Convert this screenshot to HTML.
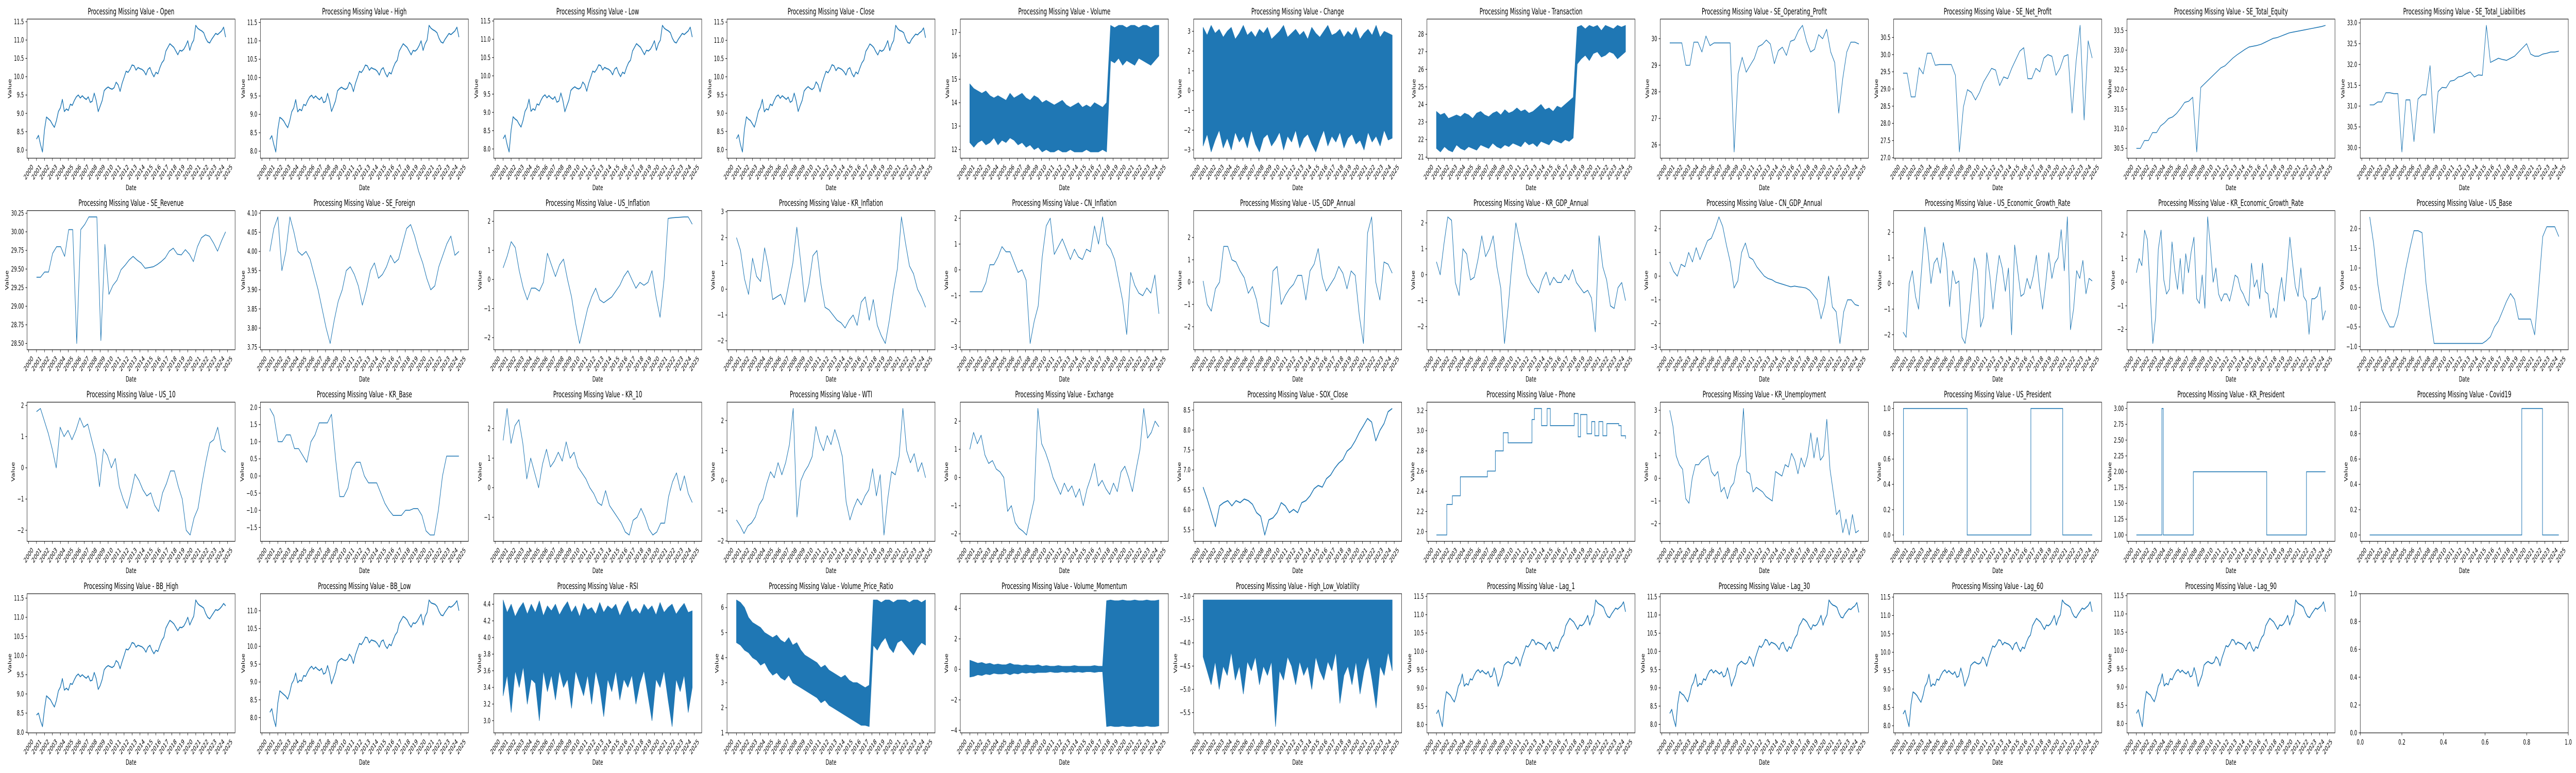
<!DOCTYPE html>
<html><head><meta charset="utf-8"><title>Processing Missing Value</title>
<style>
html,body{margin:0;padding:0;background:#fff;overflow:hidden;width:100%;height:100%;}
svg{display:block;width:100vw;height:100vh;}
text{font-family:"DejaVu Sans","Liberation Sans",sans-serif;fill:#000;}
</style></head>
<body>
<svg id="fig" xmlns="http://www.w3.org/2000/svg" viewBox="0 0 8000 1500" preserveAspectRatio="none">
<rect x="0" y="0" width="8000" height="1500" fill="#fff"/>
</svg>
<script>
// ---------- data ----------
const T0 = 2001, T1 = 2024.75;
const yearTicks = ["2000","2001","2002","2003","2004","2005","2006","2007","2008","2009","2010","2011","2012","2013","2014","2015","2016","2017","2018","2019","2020","2021","2022","2023","2024","2025"];

const openV=[8.30,8.40,8.15,7.95,8.55,8.90,8.85,8.80,8.70,8.62,8.80,9.05,9.15,9.38,9.05,9.12,9.08,9.25,9.22,9.35,9.45,9.50,9.42,9.48,9.42,9.38,9.45,9.30,9.33,9.55,9.35,9.05,9.20,9.35,9.62,9.68,9.72,9.68,9.66,9.70,9.85,9.78,9.60,9.82,9.98,10.15,10.12,10.20,10.32,10.30,10.18,10.25,10.22,10.20,10.15,10.05,10.20,10.25,10.10,10.00,10.12,10.08,10.25,10.38,10.45,10.70,10.80,10.90,10.85,10.80,10.70,10.60,10.72,10.70,10.75,10.85,10.98,10.72,10.90,11.00,11.40,11.32,11.28,11.25,11.20,11.05,10.95,10.92,11.02,11.10,11.18,11.15,11.20,11.25,11.35,11.08];
const highV=[8.32,8.42,8.18,7.98,8.58,8.92,8.88,8.82,8.72,8.64,8.82,9.07,9.17,9.40,9.07,9.14,9.10,9.27,9.24,9.37,9.47,9.52,9.44,9.50,9.44,9.40,9.47,9.32,9.35,9.57,9.37,9.08,9.22,9.37,9.64,9.70,9.74,9.70,9.68,9.72,9.87,9.80,9.62,9.84,10.00,10.17,10.14,10.22,10.34,10.32,10.20,10.27,10.24,10.22,10.17,10.07,10.22,10.27,10.12,10.02,10.14,10.10,10.27,10.40,10.47,10.72,10.82,10.92,10.87,10.82,10.72,10.62,10.74,10.72,10.77,10.87,11.00,10.74,10.92,11.02,11.42,11.34,11.30,11.27,11.22,11.07,10.97,10.94,11.04,11.12,11.20,11.17,11.22,11.27,11.37,11.10];
const lowV=[8.28,8.38,8.12,7.92,8.52,8.88,8.82,8.78,8.68,8.60,8.78,9.03,9.13,9.36,9.03,9.10,9.06,9.23,9.20,9.33,9.43,9.48,9.40,9.46,9.40,9.36,9.43,9.28,9.31,9.53,9.33,9.02,9.18,9.33,9.60,9.66,9.70,9.66,9.64,9.68,9.83,9.76,9.58,9.80,9.96,10.13,10.10,10.18,10.30,10.28,10.16,10.23,10.20,10.18,10.13,10.03,10.18,10.23,10.08,9.98,10.10,10.06,10.23,10.36,10.43,10.68,10.78,10.88,10.83,10.78,10.68,10.58,10.70,10.68,10.73,10.83,10.96,10.70,10.88,10.98,11.38,11.30,11.26,11.23,11.18,11.03,10.93,10.90,11.00,11.08,11.16,11.13,11.18,11.23,11.33,11.06];
const closeV=[8.30,8.41,8.14,7.94,8.56,8.90,8.84,8.80,8.71,8.62,8.81,9.05,9.16,9.38,9.04,9.12,9.09,9.25,9.21,9.35,9.46,9.50,9.41,9.48,9.43,9.38,9.44,9.30,9.34,9.55,9.34,9.05,9.21,9.35,9.61,9.68,9.73,9.68,9.65,9.70,9.86,9.78,9.59,9.82,9.99,10.15,10.11,10.20,10.33,10.30,10.17,10.25,10.23,10.20,10.14,10.05,10.21,10.25,10.09,10.00,10.13,10.08,10.24,10.38,10.46,10.70,10.79,10.90,10.86,10.80,10.69,10.60,10.73,10.70,10.74,10.85,10.99,10.72,10.89,11.00,11.41,11.32,11.27,11.25,11.21,11.05,10.94,10.92,11.03,11.10,11.17,11.15,11.21,11.25,11.34,11.07];

const volHi=[14.8,14.6,14.5,14.4,14.5,14.3,14.2,14.3,14.2,14.1,14.4,14.2,14.3,14.4,14.2,14.1,14.3,14.2,14.0,14.1,14.0,13.9,14.0,14.1,13.9,13.8,13.9,14.0,13.8,13.9,13.8,14.0,13.9,13.8,14.0,17.3,17.2,17.3,17.3,17.2,17.3,17.3,17.2,17.3,17.3,17.2,17.3,17.3];
const volLo=[12.3,12.1,12.3,12.4,12.2,12.3,12.5,12.2,12.4,12.3,12.5,12.4,12.2,12.3,12.1,12.2,12.0,12.1,11.9,12.0,11.9,11.9,12.0,11.9,11.9,12.0,11.9,11.9,11.9,12.0,11.9,11.9,11.9,12.0,11.9,15.8,15.7,15.9,15.6,15.8,15.7,15.6,15.9,15.8,15.7,15.6,15.8,16.0];
const chgHi=[3.2,2.8,3.3,2.9,3.1,2.7,3.0,3.2,2.6,2.9,3.3,2.8,3.0,2.7,3.1,2.9,3.2,2.6,2.8,3.0,3.3,2.7,2.9,3.1,2.8,3.0,2.6,3.2,2.9,2.7,3.0,3.3,2.8,2.9,3.1,2.7,3.0,2.8,3.2,2.6,2.9,3.1,2.8,3.3,2.7,3.0,2.9,2.8];
const chgLo=[-2.8,-2.2,-3.1,-2.5,-2.0,-2.9,-2.4,-3.0,-2.1,-2.6,-2.3,-2.9,-2.0,-2.7,-3.1,-2.4,-2.2,-2.8,-2.5,-2.1,-3.0,-2.3,-2.6,-2.0,-2.9,-2.4,-2.2,-2.7,-3.1,-2.5,-2.0,-2.8,-2.3,-2.6,-2.1,-2.9,-2.4,-2.2,-2.7,-2.5,-3.0,-2.1,-2.6,-2.3,-2.8,-2.0,-2.5,-2.4];
const trnHi=[23.6,23.4,23.5,23.2,23.3,23.4,23.3,23.5,23.4,23.2,23.5,23.6,23.4,23.3,23.5,23.6,23.4,23.7,23.5,23.6,23.8,23.6,23.7,23.5,23.6,23.8,24.0,23.7,23.8,23.6,23.9,23.8,24.0,24.2,24.4,28.4,28.5,28.3,28.5,28.4,28.5,28.2,28.5,28.4,28.3,28.5,28.4,28.5];
const trnLo=[21.5,21.3,21.6,21.4,21.3,21.7,21.5,21.4,21.6,21.5,21.4,21.7,21.6,21.5,21.8,21.6,21.5,21.7,21.6,21.8,21.7,21.6,21.9,21.7,21.8,21.6,21.9,21.8,21.7,22.0,21.9,21.8,22.0,21.9,22.1,26.3,26.6,26.8,26.5,26.9,27.0,26.7,26.8,27.0,26.9,26.6,26.8,27.0];
const seOpV=[29.84,29.84,29.84,29.84,29.0,29.0,29.87,29.87,29.5,30.1,29.74,29.84,29.84,29.84,29.84,29.84,25.74,28.68,29.3,28.74,29.0,29.25,29.7,29.78,29.95,29.8,29.06,29.55,29.68,29.37,29.9,29.96,30.3,30.5,29.9,29.5,29.6,30.15,30.0,30.35,29.5,29.1,27.2,28.5,29.5,29.87,29.87,29.8];
const seNetV=[29.46,29.46,28.77,28.77,29.62,29.44,30.04,30.04,29.69,29.71,29.71,29.71,29.71,29.4,27.17,28.48,28.98,28.9,28.68,28.9,29.2,29.4,29.6,29.55,29.1,29.35,29.3,29.6,29.85,30.1,30.2,29.3,29.3,29.6,29.5,29.9,30.0,29.95,29.4,29.6,29.95,30.0,28.3,29.8,30.85,28.1,30.4,29.9];
const seEqV=[30.5,30.5,30.7,30.7,30.9,30.9,31.07,31.15,31.26,31.3,31.39,31.52,31.67,31.7,31.8,30.41,32.05,32.15,32.25,32.35,32.45,32.55,32.6,32.7,32.8,32.88,32.95,33.02,33.08,33.1,33.12,33.15,33.2,33.25,33.3,33.32,33.36,33.4,33.44,33.46,33.48,33.5,33.52,33.54,33.56,33.58,33.6,33.63];
const seLiabV=[31.03,31.03,31.1,31.1,31.32,31.32,31.3,31.3,29.9,31.15,31.15,30.15,31.17,31.27,31.27,31.97,30.35,31.35,31.45,31.44,31.6,31.62,31.7,31.72,31.78,31.82,31.7,31.75,31.74,32.94,32.05,32.1,32.15,32.12,32.1,32.15,32.2,32.3,32.4,32.5,32.25,32.2,32.2,32.25,32.27,32.3,32.3,32.32];

const seRevV=[29.39,29.39,29.46,29.46,29.71,29.8,29.8,29.67,30.03,30.03,28.5,30.03,30.1,30.2,30.2,30.2,28.54,29.83,29.16,29.28,29.35,29.49,29.55,29.62,29.67,29.62,29.58,29.51,29.52,29.53,29.56,29.6,29.65,29.74,29.78,29.7,29.69,29.76,29.7,29.6,29.8,29.92,29.96,29.94,29.85,29.74,29.88,30.0];
const seForV=[4.0,4.06,4.09,3.95,4.0,4.09,4.05,4.0,3.99,4.0,3.98,3.94,3.9,3.85,3.8,3.76,3.82,3.87,3.9,3.95,3.96,3.94,3.91,3.86,3.9,3.95,3.97,3.93,3.94,3.96,3.99,3.97,3.98,4.02,4.06,4.07,4.04,4.0,3.97,3.93,3.9,3.91,3.96,3.99,4.02,4.04,3.99,4.0];
const usInfV=[0.4,0.8,1.3,1.1,0.3,-0.3,-0.7,-0.3,-0.3,-0.4,-0.1,0.9,0.5,0.1,0.5,0.7,0.0,-0.6,-1.5,-2.2,-1.6,-1.0,-0.6,-0.3,-0.7,-0.8,-0.7,-0.6,-0.4,-0.2,0.1,0.3,0.0,-0.3,-0.1,-0.2,-0.1,0.3,-0.6,-1.3,0.0,2.1,2.12,2.13,2.14,2.15,2.15,1.9];
const krInfV=[2.0,1.5,0.4,-0.2,1.2,0.5,0.3,1.6,0.8,-0.4,-0.3,-0.2,-0.6,0.2,1.0,2.4,1.0,-0.5,0.2,1.3,1.5,0.2,-0.7,-0.8,-1.0,-1.2,-1.3,-1.5,-1.2,-1.0,-1.4,-0.5,-0.3,-1.2,-0.4,-1.4,-1.8,-2.1,-1.2,-0.1,0.8,2.8,1.8,0.9,0.6,0.0,-0.3,-0.7];
const cnInfV=[-0.85,-0.85,-0.85,-0.85,-0.5,0.2,0.2,0.5,0.9,0.7,0.7,0.3,-0.1,0.0,-0.4,-2.85,-2.0,-1.4,0.5,1.7,2.0,0.6,0.9,1.2,0.8,0.4,0.8,0.5,0.4,0.8,0.7,1.7,1.0,2.05,1.0,0.8,0.4,-0.4,-1.2,-2.5,-0.1,-0.6,-0.9,-1.0,-0.7,-0.9,-0.2,-1.7];
const usGdpV=[0.05,-1.0,-1.3,-0.3,0.0,1.6,1.6,1.0,0.9,0.5,0.2,-0.5,-0.2,-0.8,-1.8,-1.9,-2.0,0.5,0.7,-1.0,-0.6,-0.3,-0.1,0.3,0.3,-0.8,0.5,0.8,1.5,0.2,-0.4,-0.1,0.2,0.7,0.4,-0.3,0.5,0.3,-1.5,-2.75,2.2,2.92,0.0,-0.8,0.9,0.8,0.4];
const krGdpV=[0.5,0.0,1.2,2.23,2.1,-0.3,-0.8,1.0,0.8,-0.2,-0.1,0.6,1.5,0.7,1.0,1.5,0.3,-0.5,-2.65,-1.2,0.5,2.0,1.3,0.7,0.0,-0.3,-0.5,-0.7,-0.2,0.1,-0.4,-0.1,-0.3,-0.3,0.0,-0.2,0.2,-0.3,-0.5,-0.7,-0.6,-0.9,-2.2,1.5,0.3,-0.2,-1.2,-1.3,-0.5,-0.3,-1.0];
const cnGdpV=[0.6,0.2,0.0,0.5,0.4,1.0,0.6,1.2,0.7,1.1,1.5,1.6,2.0,2.5,2.1,1.3,0.6,-0.5,-0.2,1.0,1.4,0.8,0.7,0.4,0.2,0.0,-0.1,-0.15,-0.25,-0.3,-0.35,-0.4,-0.45,-0.42,-0.45,-0.47,-0.5,-0.6,-0.8,-1.0,-1.8,-1.2,0.0,-1.3,-1.5,-2.84,-1.5,-1.0,-1.0,-1.2,-1.25];
const usEgrV=[-1.9,-2.1,0.0,0.5,-0.5,-1.0,0.6,2.2,1.3,0.0,0.8,1.0,0.4,1.6,0.9,-0.9,0.5,0.0,0.1,-2.1,-2.34,-1.5,-0.3,1.0,0.5,-1.7,-1.3,1.2,0.3,-1.0,0.1,1.1,0.6,-0.3,0.6,-2.0,1.5,0.5,-0.5,-0.4,0.2,-0.2,0.3,1.1,-0.1,-1.0,0.0,1.2,0.2,0.8,1.0,2.1,0.5,2.6,-1.8,-1.0,0.5,0.2,0.9,-0.4,0.2,0.1];
const krEgrV=[0.4,1.0,0.7,2.2,1.8,-0.3,-2.59,-1.5,1.4,2.2,0.1,-0.5,-0.3,1.7,0.5,-0.3,1.0,-0.5,1.2,0.4,1.3,1.9,-0.7,-0.9,0.3,-1.1,2.76,1.5,0.0,0.6,-0.5,-0.8,-0.5,-0.5,-0.8,-0.3,0.3,0.2,-0.3,-0.5,-0.8,-1.0,0.8,-0.2,0.1,-0.7,0.8,-0.4,-0.5,-1.5,-1.1,-1.5,-0.5,0.2,-0.8,0.5,1.9,0.8,-0.2,-0.6,0.6,-0.6,-0.8,-2.2,-0.7,-0.7,-0.6,-0.2,-1.6,-1.2];
const usBaseV=[2.3,1.6,0.6,-0.06,-0.3,-0.5,-0.5,-0.2,0.4,1.0,1.5,1.95,1.95,1.9,0.6,-0.2,-0.92,-0.92,-0.92,-0.92,-0.92,-0.92,-0.92,-0.92,-0.92,-0.92,-0.92,-0.92,-0.92,-0.85,-0.75,-0.5,-0.35,-0.1,0.15,0.35,0.2,-0.3,-0.3,-0.3,-0.3,-0.7,0.5,1.8,2.05,2.05,2.05,1.8];

const us10V=[1.8,1.9,1.5,1.1,0.6,0.0,1.3,1.0,1.2,0.9,1.2,1.6,1.3,1.4,0.9,0.4,-0.6,0.6,0.4,0.0,0.3,-0.6,-1.0,-1.3,-0.8,-0.2,-0.4,-0.7,-0.9,-0.8,-1.2,-1.4,-0.8,-0.5,-0.1,-0.1,-0.6,-1.0,-2.0,-2.15,-1.6,-1.3,-0.5,0.2,0.8,0.9,1.3,0.6,0.5];
const krBaseV=[1.97,1.75,1.0,1.0,1.2,1.2,0.8,0.8,0.6,0.4,1.0,1.2,1.55,1.55,1.55,1.8,0.5,-0.6,-0.6,-0.35,0.2,0.4,0.4,0.0,-0.2,-0.2,-0.2,-0.5,-0.8,-1.0,-1.15,-1.15,-1.15,-1.0,-1.0,-0.95,-0.95,-1.15,-1.6,-1.72,-1.72,-1.0,0.0,0.58,0.58,0.58,0.58];
const kr10V=[1.6,2.68,1.5,2.1,2.3,1.5,0.3,1.0,0.5,0.0,0.8,1.3,0.7,0.9,1.2,0.9,1.55,1.0,1.2,0.7,0.5,0.3,0.0,-0.2,-0.5,-0.6,-0.1,-0.6,-0.8,-1.0,-1.2,-1.5,-1.6,-1.1,-1.0,-0.7,-1.0,-1.4,-1.6,-1.5,-1.2,-1.2,-0.3,0.2,0.5,-0.1,0.4,-0.2,-0.5];
const wtiV=[-1.3,-1.5,-1.75,-1.5,-1.4,-1.2,-0.8,-0.6,-0.1,0.3,0.1,0.6,0.2,0.6,1.2,2.4,-1.2,0.0,0.3,0.5,0.8,1.8,1.3,1.0,1.5,1.2,1.7,1.3,0.8,-0.7,-1.3,-0.9,-0.6,-0.8,-0.5,-0.3,0.4,-0.5,0.2,-1.8,-0.6,0.3,0.2,0.8,2.4,1.0,0.6,0.9,0.3,0.6,0.1];
const exchV=[1.0,1.6,1.2,1.5,0.8,0.5,0.6,0.3,0.2,0.0,-1.2,-1.0,-1.6,-1.8,-1.9,-2.04,-1.4,-0.8,2.45,1.2,0.9,0.5,0.0,-0.3,-0.6,-0.2,-0.5,-0.3,-0.7,-0.4,-1.0,-0.4,0.0,0.5,-0.3,-0.1,-0.4,-0.6,-0.2,-0.5,0.2,0.4,0.0,-0.5,0.3,1.0,2.45,1.4,1.6,2.0,1.8];
const soxV=[6.57,6.27,5.93,5.58,6.10,6.18,6.23,6.10,6.23,6.18,6.27,6.23,6.14,5.93,5.84,5.37,5.75,5.80,5.93,6.18,6.10,5.93,6.01,5.93,6.18,6.23,6.35,6.53,6.61,6.57,6.78,6.87,7.04,7.17,7.26,7.47,7.56,7.73,7.94,8.11,8.29,8.20,7.73,7.99,8.16,8.46,8.54];
const phoneD=[2001,2002.3,2003.0,2004.0,2007.4,2008.4,2009.4,2010.0,2013.0,2013.3,2014.2,2014.9,2015.3,2018.3,2018.8,2019.1,2019.9,2020.5,2020.9,2021.4,2021.9,2022.4,2023.9,2024.2,2024.75];
const phoneV=[1.967,2.27,2.355,2.543,2.60,2.80,2.98,2.88,3.11,3.22,3.05,3.22,3.05,3.17,2.94,3.16,2.97,3.09,2.95,3.09,2.95,3.07,3.05,2.95,2.92];
const krUnV=[3.0,2.3,1.0,0.6,0.4,-0.9,-1.1,0.0,0.6,0.6,0.8,0.9,1.0,0.3,0.1,0.3,-0.6,-0.4,-0.9,-0.4,-0.2,0.6,1.0,3.08,0.3,0.2,-0.6,-0.4,-0.5,-0.6,-0.8,-0.9,-1.0,0.3,0.2,0.1,0.6,0.5,1.1,0.8,0.2,0.9,0.5,1.0,2.0,0.9,1.8,0.8,1.0,2.6,0.4,-0.6,-1.6,-1.4,-2.4,-1.8,-2.5,-1.6,-2.4,-2.3];
const usPresD=[2001,2001.05,2009.05,2017.05,2021.05,2024.75];
const usPresV=[0,1,0,1,0,0];
const krPresD=[2001,2004.2,2004.37,2008.15,2017.37,2022.36,2024.75];
const krPresV=[1,3,1,2,1,2,2];
const covidD=[2001,2020.1,2022.7,2024.75];
const covidV=[0,1,0,0];

const bbHighV=[8.45,8.50,8.30,8.15,8.60,8.95,8.90,8.85,8.75,8.66,8.83,9.08,9.18,9.40,9.10,9.15,9.10,9.27,9.25,9.37,9.47,9.52,9.45,9.50,9.45,9.41,9.47,9.34,9.36,9.56,9.40,9.12,9.22,9.38,9.63,9.70,9.74,9.71,9.69,9.73,9.87,9.82,9.66,9.84,10.00,10.17,10.15,10.22,10.34,10.32,10.22,10.27,10.25,10.23,10.18,10.09,10.22,10.27,10.14,10.05,10.14,10.11,10.26,10.40,10.48,10.72,10.82,10.92,10.88,10.83,10.74,10.65,10.74,10.73,10.77,10.87,11.00,10.80,10.92,11.03,11.45,11.36,11.31,11.28,11.24,11.10,11.00,10.96,11.04,11.12,11.20,11.18,11.22,11.28,11.36,11.30];
const bbLowV=[8.15,8.25,7.95,7.75,8.40,8.75,8.70,8.65,8.60,8.52,8.70,8.95,9.05,9.25,8.98,9.05,9.02,9.18,9.16,9.28,9.38,9.44,9.36,9.42,9.36,9.32,9.38,9.22,9.26,9.46,9.25,8.95,9.12,9.28,9.55,9.62,9.66,9.62,9.60,9.64,9.78,9.70,9.52,9.76,9.92,10.08,10.05,10.14,10.26,10.24,10.10,10.18,10.16,10.14,10.08,9.98,10.14,10.18,10.02,9.94,10.06,10.02,10.18,10.32,10.40,10.64,10.74,10.84,10.80,10.74,10.62,10.54,10.66,10.64,10.70,10.80,10.90,10.60,10.84,10.95,11.30,11.22,11.20,11.18,11.12,10.98,10.88,10.86,10.96,11.04,11.12,11.10,11.14,11.20,11.28,11.00];
const rsiHi=[4.45,4.3,4.4,4.25,4.35,4.42,4.28,4.4,4.3,4.44,4.26,4.38,4.32,4.4,4.27,4.36,4.43,4.3,4.38,4.25,4.41,4.33,4.36,4.28,4.42,4.3,4.38,4.34,4.4,4.26,4.37,4.44,4.3,4.35,4.28,4.4,4.33,4.38,4.27,4.42,4.3,4.36,4.4,4.28,4.35,4.41,4.3,4.32];
const rsiLo=[3.3,3.55,3.1,3.6,3.4,3.65,3.2,3.5,3.45,3.0,3.6,3.35,3.55,3.25,3.6,3.4,3.5,3.15,3.6,3.45,3.3,3.55,3.2,3.6,3.4,3.05,3.5,3.35,3.6,3.25,3.5,3.4,3.55,3.2,3.45,3.6,3.3,3.0,3.5,3.4,3.6,3.25,2.93,3.5,3.35,3.55,3.1,3.4];
const vprHi=[6.3,6.2,6.0,5.6,5.4,5.3,5.2,5.0,4.9,4.8,4.9,4.7,4.6,4.8,4.5,4.6,4.3,4.1,4.0,3.9,3.8,3.6,3.7,3.5,3.4,3.3,3.2,3.3,3.1,3.0,3.0,2.9,2.8,2.9,6.3,6.3,6.2,6.3,6.3,6.2,6.3,6.3,6.3,6.2,6.3,6.3,6.2,6.3];
const vprLo=[4.6,4.5,4.3,4.2,4.0,3.9,3.7,3.8,3.5,3.3,3.4,3.2,3.1,3.3,3.0,2.9,2.8,2.7,2.6,2.5,2.4,2.2,2.3,2.1,2.0,1.9,1.8,1.7,1.6,1.5,1.4,1.3,1.3,1.25,4.5,4.3,4.6,4.8,4.4,4.2,4.6,4.7,4.5,4.3,4.1,4.4,4.6,4.5];
const vmHi=[0.6,0.5,0.4,0.45,0.35,0.4,0.3,0.35,0.3,0.3,0.4,0.3,0.3,0.25,0.3,0.25,0.25,0.3,0.2,0.25,0.2,0.2,0.25,0.2,0.2,0.2,0.25,0.2,0.2,0.2,0.2,0.25,0.2,0.2,4.5,4.55,4.5,4.5,4.55,4.5,4.5,4.55,4.5,4.5,4.55,4.5,4.5,4.55];
const vmLo=[-0.5,-0.45,-0.35,-0.4,-0.3,-0.35,-0.25,-0.3,-0.3,-0.25,-0.35,-0.25,-0.3,-0.2,-0.25,-0.2,-0.25,-0.2,-0.2,-0.2,-0.15,-0.2,-0.2,-0.15,-0.2,-0.15,-0.2,-0.15,-0.2,-0.15,-0.15,-0.2,-0.15,-0.15,-3.75,-3.7,-3.75,-3.75,-3.7,-3.75,-3.75,-3.7,-3.75,-3.75,-3.7,-3.75,-3.75,-3.7];
const hlvHi=[-3.08,-3.08,-3.08,-3.08,-3.08,-3.08,-3.08,-3.08,-3.08,-3.08,-3.08,-3.08,-3.08,-3.08,-3.08,-3.08,-3.08,-3.08,-3.08,-3.08,-3.08,-3.08,-3.08,-3.08,-3.08,-3.08,-3.08,-3.08,-3.08,-3.08,-3.08,-3.08,-3.08,-3.08,-3.08,-3.08,-3.08,-3.08,-3.08,-3.08,-3.08,-3.08,-3.08,-3.08,-3.08,-3.08,-3.08,-3.08];
const hlvLo=[-4.3,-4.6,-4.9,-4.4,-5.0,-4.5,-4.7,-4.2,-4.8,-4.5,-5.1,-4.4,-4.6,-4.3,-4.9,-4.5,-4.7,-4.4,-5.8,-4.6,-4.8,-4.3,-4.5,-4.9,-4.4,-4.7,-4.5,-5.0,-4.3,-4.6,-4.8,-4.4,-4.6,-4.2,-5.3,-4.7,-4.5,-4.9,-4.4,-5.1,-4.6,-4.3,-4.8,-5.4,-4.5,-4.7,-4.2,-4.6];

const t_ohlc=["8.0","8.5","9.0","9.5","10.0","10.5","11.0","11.5"];
const t_bbl=["8.0","8.5","9.0","9.5","10.0","10.5","11.0"];
const t_vol=["12","13","14","15","16","17"];
const t_chg=["-3","-2","-1","0","1","2","3"];
const t_trn=["21","22","23","24","25","26","27","28"];
const t_seop=["26","27","28","29","30"];
const t_senet=["27.0","27.5","28.0","28.5","29.0","29.5","30.0","30.5"];
const t_seeq=["30.5","31.0","31.5","32.0","32.5","33.0","33.5"];
const t_seli=["30.0","30.5","31.0","31.5","32.0","32.5","33.0"];
const t_serev=["28.50","28.75","29.00","29.25","29.50","29.75","30.00","30.25"];
const t_sefor=["3.75","3.80","3.85","3.90","3.95","4.00","4.05","4.10"];
const t_m2=["-2","-1","0","1","2"];
const t_m3=["-2","-1","0","1","2","3"];
const t_m32=["-3","-2","-1","0","1","2"];
const t_usb=["-1.0","-0.5","0.0","0.5","1.0","1.5","2.0"];
const t_krb=["-1.5","-1.0","-0.5","0.0","0.5","1.0","1.5","2.0"];
const t_kr10=["-1","0","1","2"];
const t_sox=["5.5","6.0","6.5","7.0","7.5","8.0","8.5"];
const t_phone=["2.0","2.2","2.4","2.6","2.8","3.0","3.2"];
const t_bin=["0.0","0.2","0.4","0.6","0.8","1.0"];
const t_krp=["1.00","1.25","1.50","1.75","2.00","2.25","2.50","2.75","3.00"];
const t_rsi=["3.0","3.2","3.4","3.6","3.8","4.0","4.2","4.4"];
const t_vpr=["1","2","3","4","5","6"];
const t_vm=["-4","-2","0","2","4"];
const t_hlv=["-5.5","-5.0","-4.5","-4.0","-3.5","-3.0"];
const emptyTicks=["0.0","0.2","0.4","0.6","0.8","1.0"];

// ---------- layout ----------
const X0 = 84, DX = 724.6, W = 646, Y0 = 37, DY = 371.7, H = 270;
const COLOR = "#1f77b4";
const svg = document.getElementById("fig");
const NS = "http://www.w3.org/2000/svg";
const XMIN = T0 - 0.05 * (T1 - T0), XMAX = T1 + 0.05 * (T1 - T0);

function mk(tag, attrs, parent) {
  const e = document.createElementNS(NS, tag);
  for (const k in attrs) e.setAttribute(k, attrs[k]);
  (parent || svg).appendChild(e);
  return e;
}
function xScale(t, L) { return L + (t - XMIN) / (XMAX - XMIN) * W; }
function yScale(v, top, lo, hi) { return top + H - (v - lo) / (hi - lo) * H; }
function fmt(s) { return s.replace("-", "\u2212"); }
function evenDates(n) { const d = []; for (let i = 0; i < n; i++) d.push(T0 + i * (T1 - T0) / (n - 1)); return d; }

const panels = [
  {t:"Open", k:"line", v:openV, yt:t_ohlc, lw:2.1},
  {t:"High", k:"line", v:highV, yt:t_ohlc, lw:2.1},
  {t:"Low", k:"line", v:lowV, yt:t_ohlc, lw:2.1},
  {t:"Close", k:"line", v:closeV, yt:t_ohlc, lw:2.1},
  {t:"Volume", k:"band", hi:volHi, lo:volLo, yt:t_vol},
  {t:"Change", k:"band", hi:chgHi, lo:chgLo, yt:t_chg},
  {t:"Transaction", k:"band", hi:trnHi, lo:trnLo, yt:t_trn},
  {t:"SE_Operating_Profit", k:"line", v:seOpV, yt:t_seop},
  {t:"SE_Net_Profit", k:"line", v:seNetV, yt:t_senet},
  {t:"SE_Total_Equity", k:"line", v:seEqV, yt:t_seeq},
  {t:"SE_Total_Liabilities", k:"line", v:seLiabV, yt:t_seli},
  {t:"SE_Revenue", k:"line", v:seRevV, yt:t_serev},
  {t:"SE_Foreign", k:"line", v:seForV, yt:t_sefor},
  {t:"US_Inflation", k:"line", v:usInfV, yt:t_m2},
  {t:"KR_Inflation", k:"line", v:krInfV, yt:t_m3},
  {t:"CN_Inflation", k:"line", v:cnInfV, yt:t_m32},
  {t:"US_GDP_Annual", k:"line", v:usGdpV, yt:t_m2},
  {t:"KR_GDP_Annual", k:"line", v:krGdpV, yt:t_m2},
  {t:"CN_GDP_Annual", k:"line", v:cnGdpV, yt:t_m32},
  {t:"US_Economic_Growth_Rate", k:"line", v:usEgrV, yt:t_m2},
  {t:"KR_Economic_Growth_Rate", k:"line", v:krEgrV, yt:t_m2},
  {t:"US_Base", k:"line", v:usBaseV, yt:t_usb},
  {t:"US_10", k:"line", v:us10V, yt:t_m2},
  {t:"KR_Base", k:"line", v:krBaseV, yt:t_krb},
  {t:"KR_10", k:"line", v:kr10V, yt:t_kr10},
  {t:"WTI", k:"line", v:wtiV, yt:t_m2},
  {t:"Exchange", k:"line", v:exchV, yt:t_m2},
  {t:"SOX_Close", k:"line", v:soxV, yt:t_sox, lw:2.1},
  {t:"Phone", k:"step", d:phoneD, v:phoneV, yt:t_phone},
  {t:"KR_Unemployment", k:"line", v:krUnV, yt:t_m3},
  {t:"US_President", k:"step", d:usPresD, v:usPresV, yt:t_bin},
  {t:"KR_President", k:"step", d:krPresD, v:krPresV, yt:t_krp},
  {t:"Covid19", k:"step", d:covidD, v:covidV, yt:t_bin},
  {t:"BB_High", k:"line", v:bbHighV, yt:t_ohlc, lw:2.1},
  {t:"BB_Low", k:"line", v:bbLowV, yt:t_bbl, lw:2.1},
  {t:"RSI", k:"band", hi:rsiHi, lo:rsiLo, yt:t_rsi},
  {t:"Volume_Price_Ratio", k:"band", hi:vprHi, lo:vprLo, yt:t_vpr},
  {t:"Volume_Momentum", k:"band", hi:vmHi, lo:vmLo, yt:t_vm},
  {t:"High_Low_Volatility", k:"band", hi:hlvHi, lo:hlvLo, yt:t_hlv},
  {t:"Lag_1", k:"line", v:openV, yt:t_ohlc, lw:2.1},
  {t:"Lag_30", k:"line", v:closeV, yt:t_ohlc, lw:2.1},
  {t:"Lag_60", k:"line", v:highV, yt:t_ohlc, lw:2.1},
  {t:"Lag_90", k:"line", v:lowV, yt:t_ohlc, lw:2.1}
];

function drawYAxis(g, L, top, lo, hi, ticks) {
  let maxW = 0;
  ticks.forEach(s => {
    const v = parseFloat(s);
    if (v < lo - 1e-9 || v > hi + 1e-9) return;
    const y = yScale(v, top, lo, hi);
    const tk = mk("line", {x1:L-4.9, x2:L, y1:y, y2:y, stroke:"#000", "stroke-width":1.1}, g);
    
    
    const tx = mk("text", {x:L-9.7, y:y, "text-anchor":"end", "dominant-baseline":"central", "font-size":"13.9"}, g);
    
    
    tx.textContent = fmt(s);
    let w = s.length * 8.8;
    try { const cw = tx.getComputedTextLength(); if (cw > 0) w = cw; } catch (e) {}
    maxW = Math.max(maxW, w);
  });
  return maxW;
}

panels.forEach((p, idx) => {
  const r = Math.floor(idx / 11), c = idx % 11;
  const L = X0 + c * DX, top = Y0 + r * DY;
  const g = mk("g", {});
  
  

  let all;
  if (p.k === "band") all = p.hi.concat(p.lo); else all = p.v;
  const dmin = Math.min.apply(null, all), dmax = Math.max.apply(null, all);
  const rg = (dmax - dmin) || 1;
  const lo = dmin - 0.05 * rg, hi = dmax + 0.05 * rg;
  const lw = p.lw || 1.6;

  if (p.k === "line") {
    const ds = evenDates(p.v.length);
    const pts = p.v.map((v, i) => xScale(ds[i], L).toFixed(2) + "," + yScale(v, top, lo, hi).toFixed(2)).join(" ");
    const pl = mk("polyline", {points:pts, fill:"none", stroke:COLOR, "stroke-width":lw, "stroke-linejoin":"round"}, g);
    
    
  } else if (p.k === "step") {
    let d = "";
    p.d.forEach((t, i) => {
      const x = xScale(t, L).toFixed(2), y = yScale(p.v[i], top, lo, hi).toFixed(2);
      if (i === 0) d += "M" + x + "," + y;
      else { const yp = yScale(p.v[i-1], top, lo, hi).toFixed(2); d += " L" + x + "," + yp + " L" + x + "," + y; }
    });
    const pa = mk("path", {d:d, fill:"none", stroke:COLOR, "stroke-width":lw}, g);
    
    
  } else {
    const ds = evenDates(p.hi.length);
    const up = p.hi.map((v, i) => xScale(ds[i], L).toFixed(2) + "," + yScale(v, top, lo, hi).toFixed(2));
    const dn = p.lo.map((v, i) => xScale(ds[i], L).toFixed(2) + "," + yScale(v, top, lo, hi).toFixed(2)).reverse();
    const pg = mk("polygon", {points:up.concat(dn).join(" "), fill:COLOR, stroke:COLOR, "stroke-width":1.2, "stroke-linejoin":"round"}, g);
    
    
  }

  const fr = mk("rect", {x:L, y:top, width:W, height:H, fill:"none", stroke:"#000", "stroke-width":1.1}, g);
  
  

  yearTicks.forEach(s => {
    const x = xScale(parseFloat(s), L);
    const tk = mk("line", {x1:x, x2:x, y1:top+H, y2:top+H+4.9, stroke:"#000", "stroke-width":1.1}, g);
    
    
    const tx = mk("text", {transform:"translate(" + x.toFixed(2) + "," + (top+H+27) + ") rotate(-45)", "text-anchor":"middle", "dominant-baseline":"central", "font-size":"13.9"}, g);
    
    
    tx.textContent = s;
  });

  const maxW = drawYAxis(g, L, top, lo, hi, p.yt);

  const ttl = mk("text", {x:L + W/2, y:top - 14, "text-anchor":"middle", "dominant-baseline":"central", "font-size":"16.7"}, g);
  
  
  ttl.textContent = "Processing Missing Value - " + p.t;

  const xl = mk("text", {x:L + W/2, y:top + H + 57, "text-anchor":"middle", "dominant-baseline":"central", "font-size":"13.9"}, g);
  
  
  xl.textContent = "Date";

  const yx = L - 9.7 - maxW - 13;
  const yl = mk("text", {transform:"translate(" + yx.toFixed(2) + "," + (top + H/2) + ") rotate(-90)", "text-anchor":"middle", "dominant-baseline":"central", "font-size":"13.9"}, g);
  
  
  yl.textContent = "Value";
});

(function(){
  const r = 3, c = 10;
  const L = X0 + c * DX, top = Y0 + r * DY;
  const g = mk("g", {});
  
  
  const fr = mk("rect", {x:L, y:top, width:W, height:H, fill:"none", stroke:"#000", "stroke-width":1.1}, g);
  
  
  emptyTicks.forEach(s => {
    const v = parseFloat(s);
    const x = L + v * W;
    const tk = mk("line", {x1:x, x2:x, y1:top+H, y2:top+H+4.9, stroke:"#000", "stroke-width":1.1}, g);
    
    
    const tx = mk("text", {x:x, y:top+H+18, "text-anchor":"middle", "dominant-baseline":"central", "font-size":"13.9"}, g);
    
    
    tx.textContent = s;
  });
  drawYAxis(g, L, top, 0, 1, emptyTicks);
})();
</script>
</body></html>
